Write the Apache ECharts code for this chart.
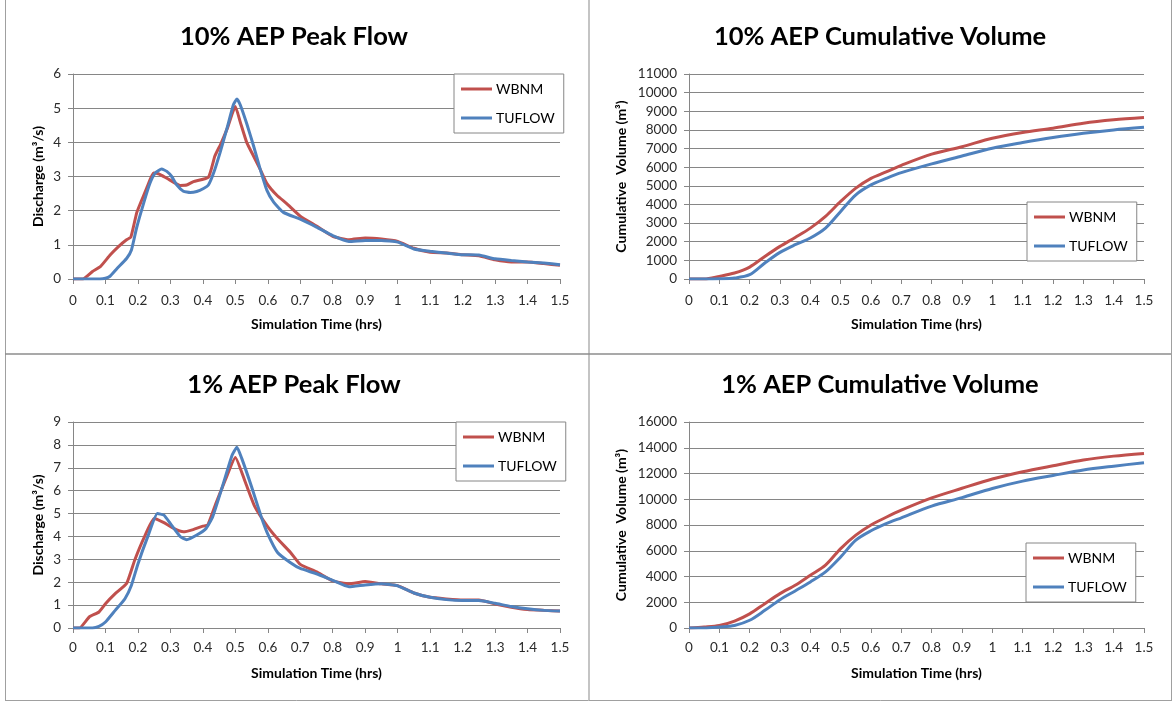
<!DOCTYPE html>
<html>
<head>
<meta charset="utf-8">
<script src="https://cdn.jsdelivr.net/npm/echarts@6/dist/echarts.min.js"></script>
<style>
html,body{margin:0;padding:0;background:#fff;}
#c{width:1173px;height:702px;}
</style>
</head>
<body>
<div id="c"></div>
<script>
// ---------- DATA ----------
const seriesNames = ['WBNM', 'TUFLOW'];
const titles = ['10% AEP Peak Flow', '10% AEP Cumulative Volume', '1% AEP Peak Flow', '1% AEP Cumulative Volume'];
const xTickLabels = ['0','0.1','0.2','0.3','0.4','0.5','0.6','0.7','0.8','0.9','1','1.1','1.2','1.3','1.4','1.5'];

// 10% AEP peak flow (m3/s)
const p10WbnmT = [0,0.03,0.06,0.085,0.115,0.14,0.165,0.178,0.196,0.207,0.227,0.248,0.263,0.289,0.33,0.35,0.371,0.417,0.437,0.455,0.475,0.5,0.515,0.535,0.556,0.577,0.597,0.628,0.659,0.7,0.75,0.8,0.85,0.9,0.95,1.0,1.05,1.1,1.15,1.2,1.25,1.3,1.35,1.4,1.45,1.5];
const p10WbnmQ = [0,0,0.22,0.37,0.71,0.95,1.15,1.22,1.93,2.2,2.66,3.1,3.08,2.95,2.74,2.75,2.85,2.98,3.6,3.95,4.4,5.05,4.6,4.0,3.6,3.2,2.8,2.45,2.2,1.84,1.55,1.25,1.15,1.2,1.17,1.1,0.9,0.78,0.76,0.71,0.68,0.56,0.5,0.5,0.45,0.4];
const p10TufT = [0,0.083,0.1,0.114,0.135,0.165,0.18,0.196,0.217,0.237,0.253,0.273,0.289,0.304,0.32,0.34,0.361,0.381,0.402,0.417,0.433,0.453,0.474,0.494,0.505,0.515,0.535,0.556,0.577,0.597,0.618,0.648,0.7,0.75,0.8,0.85,0.9,0.95,1.0,1.05,1.1,1.15,1.2,1.25,1.3,1.35,1.4,1.45,1.5];
const p10TufQ = [0,0,0.02,0.08,0.3,0.6,0.85,1.5,2.2,2.8,3.1,3.22,3.15,3.0,2.75,2.57,2.53,2.56,2.65,2.75,3.1,3.7,4.4,5.1,5.27,5.1,4.55,3.9,3.2,2.6,2.25,1.95,1.75,1.52,1.27,1.1,1.13,1.13,1.08,0.88,0.81,0.76,0.71,0.7,0.59,0.54,0.5,0.47,0.42];

// 1% AEP peak flow (m3/s)
const p1WbnmT = [0,0.02,0.05,0.08,0.1,0.13,0.165,0.19,0.22,0.25,0.28,0.31,0.34,0.37,0.4,0.415,0.44,0.47,0.5,0.53,0.56,0.6,0.63,0.67,0.7,0.75,0.8,0.85,0.9,0.95,1.0,1.05,1.1,1.15,1.2,1.25,1.3,1.35,1.4,1.45,1.5];
const p1WbnmQ = [0,0,0.48,0.7,1.06,1.5,1.94,2.96,3.98,4.78,4.6,4.35,4.2,4.3,4.45,4.5,5.44,6.5,7.45,6.4,5.3,4.42,3.9,3.3,2.78,2.45,2.06,1.93,2.03,1.93,1.85,1.53,1.34,1.27,1.22,1.22,1.05,0.91,0.81,0.77,0.74];
const p1TufT = [0,0.06,0.08,0.1,0.13,0.16,0.18,0.2,0.23,0.26,0.28,0.3,0.33,0.35,0.38,0.41,0.43,0.46,0.49,0.505,0.52,0.55,0.58,0.6,0.63,0.67,0.7,0.75,0.8,0.85,0.9,0.95,1.0,1.05,1.1,1.15,1.2,1.25,1.3,1.35,1.4,1.45,1.5];
const p1TufQ = [0,0,0.07,0.26,0.77,1.28,1.87,2.8,3.98,5.0,4.93,4.56,4.0,3.86,4.05,4.35,4.85,6.17,7.55,7.9,7.4,6.17,4.85,4.1,3.3,2.85,2.6,2.37,2.08,1.8,1.88,1.93,1.84,1.53,1.34,1.24,1.2,1.2,1.08,0.94,0.84,0.77,0.74];

// cumulative volumes (m3)
const volT = [0,0.05,0.1,0.15,0.2,0.25,0.3,0.35,0.4,0.45,0.5,0.55,0.6,0.65,0.7,0.8,0.9,1.0,1.1,1.2,1.3,1.4,1.5];
const v10Wbnm = [0,0,140,320,640,1210,1750,2230,2730,3360,4160,4875,5400,5750,6100,6700,7100,7550,7860,8090,8360,8540,8660];
const v10Tuf  = [0,0,10,50,230,860,1430,1840,2200,2730,3625,4520,5050,5400,5710,6180,6600,7020,7320,7590,7820,8000,8140];
const v1Wbnm  = [0,80,200,540,1100,1890,2670,3320,4100,4880,6170,7210,8000,8600,9150,10100,10850,11570,12130,12600,13050,13350,13560];
const v1Tuf   = [0,0,80,200,600,1370,2200,2880,3580,4360,5520,6820,7550,8100,8560,9470,10130,10840,11410,11850,12270,12570,12840];

// ---------- CHART ----------
const pair = (t, v) => t.map((x, i) => [x, v[i]]);
const FONT = 'Lato';
const RED = '#C0504D', BLUE = '#4F81BD';
const GRIDC = '#868686';

const grids = [
  {left: 73, top: 74, width: 487, height: 205},
  {left: 689, top: 74, width: 455, height: 205},
  {left: 73, top: 422, width: 487, height: 206},
  {left: 689, top: 422, width: 455, height: 206}
];
const yCfg = [
  {max: 6, interval: 1, name: 'Discharge (m\u00B3/s)', gap: 28},
  {max: 11000, interval: 1000, name: 'Cumulative  Volume (m\u00B3)', gap: 61},
  {max: 9, interval: 1, name: 'Discharge (m\u00B3/s)', gap: 28},
  {max: 16000, interval: 2000, name: 'Cumulative  Volume (m\u00B3)', gap: 61}
];
const titlePos = [[294, 24], [880, 24], [294, 372], [880, 372]];
const legendPos = [[454, 74], [1027, 202], [456, 422], [1026, 543]];

const option = {
  backgroundColor: '#fff',
  animation: false,
  textStyle: {fontFamily: FONT},
  title: titles.map((t, i) => ({
    text: t, left: titlePos[i][0], top: titlePos[i][1], textAlign: 'center', padding: 0,
    textStyle: {fontFamily: FONT, fontWeight: 'bold', fontSize: 25.5, color: '#000'}
  })),
  legend: legendPos.map(p => ({
    data: seriesNames, left: p[0], top: p[1], orient: 'vertical',
    icon: 'rect', itemWidth: 31, itemHeight: 3, itemGap: 15,
    padding: [8, 9, 8, 7], borderColor: GRIDC, borderWidth: 1, backgroundColor: '#fff',
    selectedMode: false,
    textStyle: {fontFamily: FONT, fontSize: 14, color: '#000', padding: [0, 0, 0, -1]}
  })),
  grid: grids,
  xAxis: grids.map((g, i) => ({
    type: 'value', gridIndex: i, min: 0, max: 1.5, interval: 0.1,
    name: 'Simulation Time (hrs)', nameLocation: 'middle', nameGap: 38,
    nameTextStyle: {fontFamily: FONT, fontWeight: 'bold', fontSize: 14, color: '#000'},
    axisLine: {lineStyle: {color: GRIDC, width: 1}},
    axisTick: {show: true, length: 5, lineStyle: {color: GRIDC}},
    splitLine: {show: false},
    axisLabel: {
      fontFamily: FONT, fontSize: 13.5, color: '#2b2b2b', margin: i < 2 ? 15 : 13,
      formatter: (v, idx) => xTickLabels[Math.round(v * 10)] ?? ''
    }
  })),
  yAxis: yCfg.map((c, i) => ({
    type: 'value', gridIndex: i, min: 0, max: c.max, interval: c.interval,
    name: c.name, nameLocation: 'middle', nameGap: c.gap, nameRotate: 90,
    nameTextStyle: {fontFamily: FONT, fontWeight: 'bold', fontSize: 14, color: '#000'},
    axisLine: {show: true, lineStyle: {color: GRIDC, width: 1}},
    axisTick: {show: true, length: 5, lineStyle: {color: GRIDC}},
    splitLine: {show: true, lineStyle: {color: GRIDC, width: 1}},
    axisLabel: {fontFamily: FONT, fontSize: 13.5, color: '#2b2b2b', margin: 12, formatter: v => String(v)}
  })),
  series: [
    {name: 'WBNM', type: 'line', xAxisIndex: 0, yAxisIndex: 0, data: pair(p10WbnmT, p10WbnmQ)},
    {name: 'TUFLOW', type: 'line', xAxisIndex: 0, yAxisIndex: 0, data: pair(p10TufT, p10TufQ)},
    {name: 'WBNM', type: 'line', xAxisIndex: 1, yAxisIndex: 1, smooth: 0.3, data: pair(volT, v10Wbnm)},
    {name: 'TUFLOW', type: 'line', xAxisIndex: 1, yAxisIndex: 1, smooth: 0.3, data: pair(volT, v10Tuf)},
    {name: 'WBNM', type: 'line', xAxisIndex: 2, yAxisIndex: 2, data: pair(p1WbnmT, p1WbnmQ)},
    {name: 'TUFLOW', type: 'line', xAxisIndex: 2, yAxisIndex: 2, data: pair(p1TufT, p1TufQ)},
    {name: 'WBNM', type: 'line', xAxisIndex: 3, yAxisIndex: 3, smooth: 0.3, data: pair(volT, v1Wbnm)},
    {name: 'TUFLOW', type: 'line', xAxisIndex: 3, yAxisIndex: 3, smooth: 0.3, data: pair(volT, v1Tuf)}
  ].map(s => Object.assign({}, s, {
    symbol: 'none',
    smooth: s.smooth || 0.15,
    lineStyle: {width: 3, color: s.name === 'WBNM' ? RED : BLUE},
    itemStyle: {color: s.name === 'WBNM' ? RED : BLUE}
  })),
  graphic: [
    {type: 'line', shape: {x1: 5.5, y1: 0, x2: 5.5, y2: 700}, style: {stroke: '#a0a0a0', lineWidth: 1}, silent: true},
    {type: 'line', shape: {x1: 1171.5, y1: 0, x2: 1171.5, y2: 700}, style: {stroke: '#a0a0a0', lineWidth: 1}, silent: true},
    {type: 'line', shape: {x1: 5, y1: 700.5, x2: 1172, y2: 700.5}, style: {stroke: '#a0a0a0', lineWidth: 1}, silent: true},
    {type: 'line', shape: {x1: 589, y1: 0, x2: 589, y2: 700}, style: {stroke: '#c4c4c4', lineWidth: 2}, silent: true},
    {type: 'line', shape: {x1: 5, y1: 354, x2: 1171, y2: 354}, style: {stroke: '#8c8c8c', lineWidth: 1.5}, silent: true}
  ]
};
const chart = echarts.init(document.getElementById('c'), null, {renderer: 'canvas'});
chart.setOption(option);
</script>
</body>
</html>
